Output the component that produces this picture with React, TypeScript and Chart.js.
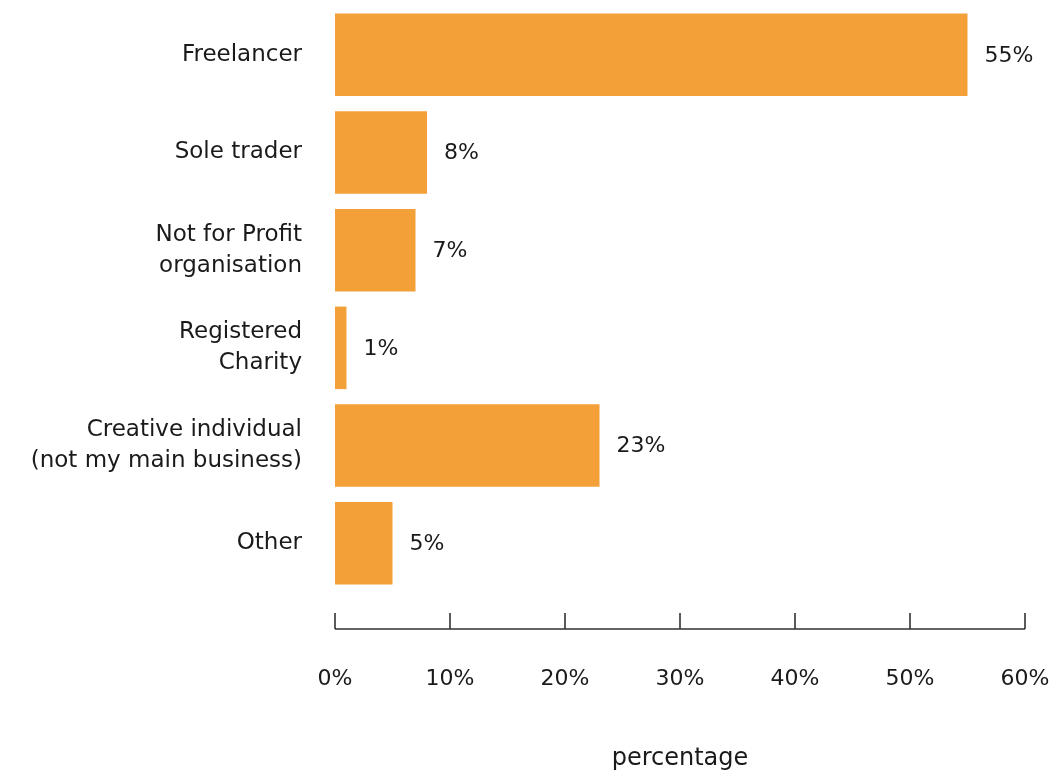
import React, { useEffect, useRef } from "react";
import { Chart, registerables } from "chart.js";

Chart.register(...registerables);

const categories: (string | string[])[] = [
  "Freelancer",
  "Sole trader",
  ["Not for Profit", "organisation"],
  ["Registered", "Charity"],
  ["Creative individual", "(not my main business)"],
  "Other",
];
const values = [55, 8, 7, 1, 23, 5];
const xTicks = [0, 10, 20, 30, 40, 50, 60];
const axisTitle = "percentage";

const FONT = "'DejaVu Sans', sans-serif";
const TEXT = "#1a1a1a";
const BAR = "#F4A038";

const valueLabels = {
  id: "valueLabels",
  afterDatasetsDraw(chart: any) {
    const ctx = chart.ctx;
    const meta = chart.getDatasetMeta(0);
    ctx.save();
    ctx.font = `22px ${FONT}`;
    ctx.fillStyle = TEXT;
    ctx.textAlign = "left";
    ctx.textBaseline = "middle";
    meta.data.forEach((bar: any, i: number) => {
      ctx.fillText(`${values[i]}%`, bar.x + 17, bar.y + 1);
    });
    ctx.restore();
  },
};

const detachedAxis = {
  id: "detachedAxis",
  afterDraw(chart: any) {
    const ctx = chart.ctx;
    const xs = chart.scales.x;
    const y = chart.chartArea.bottom + 37;
    ctx.save();
    ctx.strokeStyle = "#333333";
    ctx.lineWidth = 1.6;
    ctx.beginPath();
    ctx.moveTo(xs.getPixelForValue(xTicks[0]), y);
    ctx.lineTo(xs.getPixelForValue(xTicks[xTicks.length - 1]), y);
    xTicks.forEach((t) => {
      const px = xs.getPixelForValue(t);
      ctx.moveTo(px, y);
      ctx.lineTo(px, y - 16);
    });
    ctx.stroke();
    ctx.restore();
  },
};

export default function App() {
  const ref = useRef<HTMLCanvasElement | null>(null);
  useEffect(() => {
    if (!ref.current) return;
    const chart = new Chart(ref.current, {
      type: "bar",
      data: {
        labels: categories as any,
        datasets: [
          {
            data: values,
            backgroundColor: BAR,
            borderWidth: 0,
            categoryPercentage: 1,
            barPercentage: 0.845,
          },
        ],
      },
      options: {
        indexAxis: "y",
        animation: false,
        responsive: true,
        maintainAspectRatio: false,
        layout: { padding: { top: 6, right: 37, bottom: 0, left: 0 } },
        plugins: {
          legend: { display: false },
          tooltip: { enabled: false },
        },
        scales: {
          x: {
            min: 0,
            max: 60,
            afterFit: (s: any) => {
              s.height = 181;
              s.paddingLeft = 0;
              s.paddingRight = 0;
            },
            afterBuildTicks: (s: any) => {
              s.ticks = xTicks.map((v) => ({ value: v }));
            },
            grid: { display: false, drawTicks: false },
            border: { display: false },
            ticks: {
              padding: 74,
              color: TEXT,
              font: { family: FONT, size: 22 },
              callback: (v: any) => `${v}%`,
              maxRotation: 0,
            },
            title: {
              display: true,
              text: axisTitle,
              color: TEXT,
              font: { family: FONT, size: 24 },
              padding: { top: 0, bottom: 0 },
            },
          },
          y: {
            afterFit: (s: any) => {
              s.width = 335;
              s.paddingTop = 0;
              s.paddingBottom = 0;
            },
            grid: { display: false, drawTicks: false },
            border: { display: false },
            ticks: {
              padding: 33,
              color: TEXT,
              font: { family: FONT, size: 23, lineHeight: 1.35 },
            },
          },
        },
      },
      plugins: [valueLabels, detachedAxis],
    });
    return () => chart.destroy();
  }, []);
  return (
    <div style={{ position: "fixed", left: 0, top: 0, width: 1062, height: 773, background: "#fff" }}>
      <canvas ref={ref} />
    </div>
  );
}
